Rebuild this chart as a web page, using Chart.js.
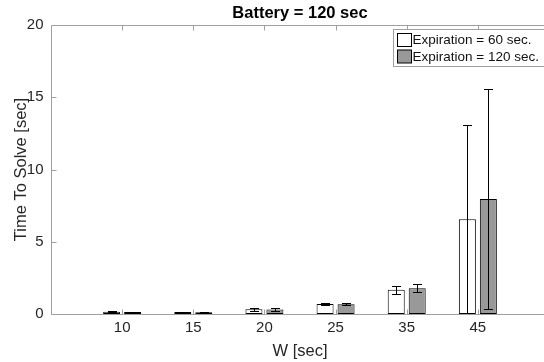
<!DOCTYPE html>
<html>
<head>
<meta charset="utf-8">
<title>Battery = 120 sec</title>
<script src="https://cdn.jsdelivr.net/npm/chart.js@4.4.1/dist/chart.umd.min.js"></script>
<style>
  html, body { margin: 0; padding: 0; background: #fff; overflow: hidden; }
  #wrap { position: relative; width: 560px; height: 362px; }
</style>
</head>
<body>
<div id="wrap"><canvas id="chart"></canvas></div>
<script>
// W values on the x axis, bar heights (mean) and error bar half-lengths (std)
const W_LABELS = ["10", "15", "20", "25", "35", "45"];
const EXP60_MEAN = [0.15, 0.13, 0.33, 0.70, 1.67, 6.55];
const EXP60_STD = [0.03, 0.03, 0.09, 0.08, 0.26, 6.53];
const EXP120_MEAN = [0.14, 0.12, 0.32, 0.67, 1.79, 7.96];
const EXP120_STD = [0.03, 0.03, 0.09, 0.07, 0.29, 7.61];
const Y_TICKS = [0, 5, 10, 15, 20];

const FONT = '"Liberation Sans", Arial, Helvetica, sans-serif';
const AXIS_GRAY = "#a0a0a0";
const TEXT_DARK = "#262626";

function toPoints(values) {
  return values.map((v, i) => ({ x: i + 1, y: v }));
}

const errorBarPlugin = {
  id: "errorBars",
  afterDatasetsDraw(chart) {
    const { ctx } = chart;
    const y = chart.scales.y;
    ctx.save();
    ctx.strokeStyle = "#000";
    ctx.lineWidth = 1;
    chart.data.datasets.forEach((ds, i) => {
      const meta = chart.getDatasetMeta(i);
      meta.data.forEach((bar, j) => {
        const mean = ds.data[j].y;
        const sd = ds.errors[j];
        const x = Math.round(bar.x) + 0.5;
        const top = Math.round(y.getPixelForValue(mean + sd)) + 0.5;
        const bot = Math.round(y.getPixelForValue(mean - sd)) + 0.5;
        ctx.beginPath();
        ctx.moveTo(x, top);
        ctx.lineTo(x, bot);
        ctx.moveTo(x - 4.5, top);
        ctx.lineTo(x + 4.5, top);
        ctx.moveTo(x - 4.5, bot);
        ctx.lineTo(x + 4.5, bot);
        ctx.stroke();
      });
    });
    ctx.restore();
  },
};

// axes box with inward tick marks (matlab look)
const framePlugin = {
  id: "frame",
  afterDatasetsDraw(chart) {
    const { ctx, chartArea: a } = chart;
    const { x, y } = chart.scales;
    const L = Math.round(a.left) + 0.5;
    const T = Math.round(a.top) + 0.5;
    const B = Math.round(a.bottom) + 0.5;
    const R = Math.round(a.right) + 0.5;
    ctx.save();
    ctx.strokeStyle = AXIS_GRAY;
    ctx.lineWidth = 1;
    ctx.beginPath();
    ctx.moveTo(R, T);
    ctx.lineTo(L, T);
    ctx.lineTo(L, B);
    ctx.lineTo(R, B);
    ctx.lineTo(R, T);
    for (const t of y.ticks) {
      const py = Math.round(y.getPixelForValue(t.value)) + 0.5;
      ctx.moveTo(L, py);
      ctx.lineTo(L + 5, py);
      ctx.moveTo(R, py);
      ctx.lineTo(R - 5, py);
    }
    for (const t of x.ticks) {
      const px = Math.round(x.getPixelForValue(t.value)) + 0.5;
      ctx.moveTo(px, B);
      ctx.lineTo(px, B - 5);
      ctx.moveTo(px, T);
      ctx.lineTo(px, T + 5);
    }
    ctx.stroke();
    ctx.restore();
  },
};

const boxLegendPlugin = {
  id: "boxLegend",
  afterDraw(chart) {
    const { ctx } = chart;
    const left = 393.5;
    const top = 29.5;
    ctx.save();
    ctx.fillStyle = "#fff";
    ctx.strokeStyle = AXIS_GRAY;
    ctx.lineWidth = 1;
    ctx.fillRect(left, top, 200, 37);
    ctx.strokeRect(left, top, 200, 37);
    ctx.font = `13.5px ${FONT}`;
    ctx.textBaseline = "middle";
    chart.data.datasets.forEach((ds, i) => {
      const cy = top + 10.5 + i * 16.5;
      ctx.fillStyle = ds.backgroundColor;
      ctx.strokeStyle = "#000";
      ctx.fillRect(397.5, cy - 6.5, 14, 13);
      ctx.strokeRect(397.5, cy - 6.5, 14, 13);
      ctx.fillStyle = "#111";
      ctx.fillText(ds.label, 412.5, cy + 0.5);
    });
    ctx.restore();
  },
};

function renderChart() {
  const ctx = document.getElementById("chart").getContext("2d");
  new Chart(ctx, {
    type: "bar",
    data: {
      datasets: [
        {
          label: "Expiration = 60 sec.",
          data: toPoints(EXP60_MEAN),
          errors: EXP60_STD,
          backgroundColor: "#ffffff",
          borderColor: "#000",
          borderWidth: 1,
          borderSkipped: false,
        },
        {
          label: "Expiration = 120 sec.",
          data: toPoints(EXP120_MEAN),
          errors: EXP120_STD,
          backgroundColor: "#999999",
          borderColor: "#000",
          borderWidth: 1,
          borderSkipped: false,
        },
      ],
    },
    options: {
      responsive: true,
      maintainAspectRatio: false,
      animation: false,
      events: [],
      barPercentage: 0.81,
      categoryPercentage: 0.59,
      layout: { padding: { left: 0, right: 11, top: 0, bottom: 0 } },
      plugins: {
        legend: { display: false },
        tooltip: { enabled: false },
        title: {
          display: true,
          fullSize: false,
          text: "Battery = 120 sec",
          color: "#000",
          font: { family: FONT, size: 16.5, weight: "bold" },
          padding: { top: 3.1, bottom: 2.1 },
        },
      },
      scales: {
        x: {
          type: "linear",
          min: 0,
          max: 7,
          offset: false,
          grid: { display: false, drawTicks: false, offset: false },
          border: { display: false },
          afterBuildTicks: (scale) => {
            scale.ticks = W_LABELS.map((_, i) => ({ value: i + 1 }));
          },
          afterFit: (scale) => {
            scale.height = 48;
          },
          ticks: {
            color: TEXT_DARK,
            font: { family: FONT, size: 15 },
            padding: 5,
            maxRotation: 0,
            autoSkip: false,
            callback: (value) => W_LABELS[value - 1],
          },
          title: {
            display: true,
            text: "W [sec]",
            color: TEXT_DARK,
            font: { family: FONT, size: 16.5 },
            padding: { top: 0, bottom: 0.5 },
          },
        },
        y: {
          min: 0,
          max: 20,
          grid: { display: false, drawTicks: false },
          border: { display: false },
          afterBuildTicks: (scale) => {
            scale.ticks = Y_TICKS.map((v) => ({ value: v }));
          },
          afterFit: (scale) => {
            scale.width = 51;
          },
          ticks: {
            color: TEXT_DARK,
            font: { family: FONT, size: 15 },
            padding: 7.5,
          },
          title: {
            display: true,
            text: "Time To Solve [sec]",
            color: TEXT_DARK,
            font: { family: FONT, size: 16.5 },
            padding: { top: 11.5, bottom: 0 },
          },
        },
      },
    },
    plugins: [errorBarPlugin, framePlugin, boxLegendPlugin],
  });
}

renderChart();
</script>
</body>
</html>
